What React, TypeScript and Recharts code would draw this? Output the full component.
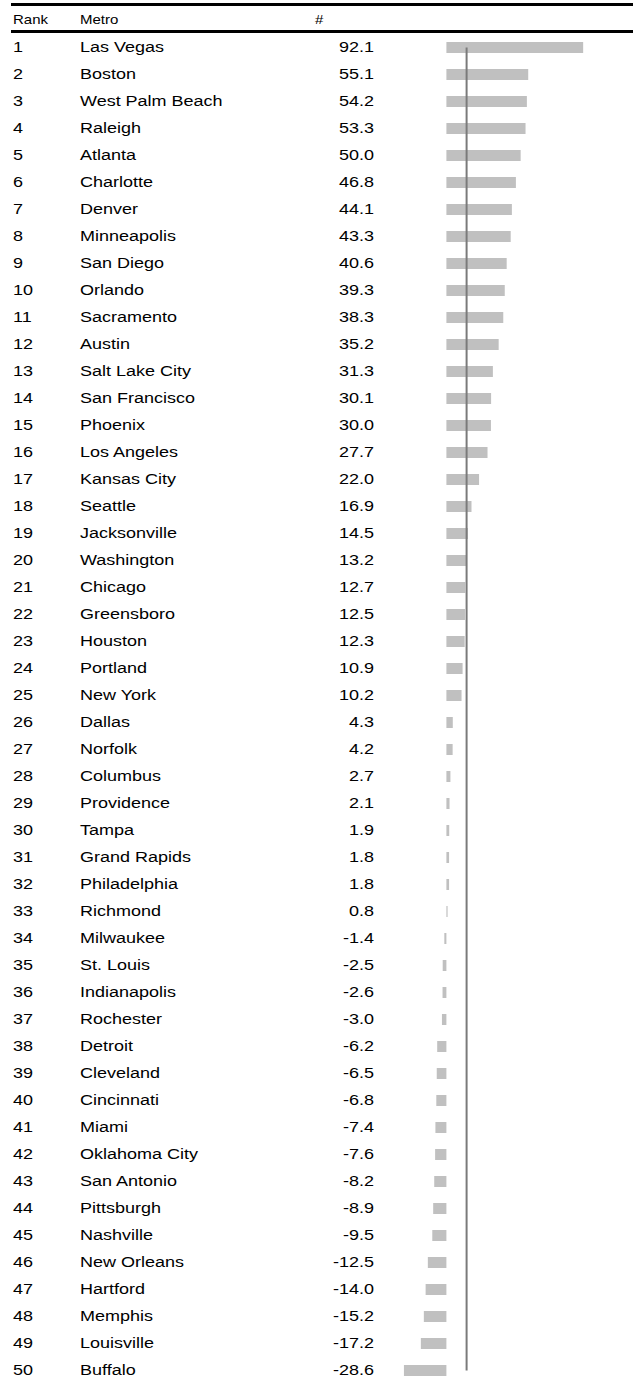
import { BarChart, Bar, XAxis, YAxis, ReferenceLine, LabelList } from 'recharts';

const metros = [
  'Las Vegas', 'Boston', 'West Palm Beach', 'Raleigh', 'Atlanta',
  'Charlotte', 'Denver', 'Minneapolis', 'San Diego', 'Orlando',
  'Sacramento', 'Austin', 'Salt Lake City', 'San Francisco', 'Phoenix',
  'Los Angeles', 'Kansas City', 'Seattle', 'Jacksonville', 'Washington',
  'Chicago', 'Greensboro', 'Houston', 'Portland', 'New York',
  'Dallas', 'Norfolk', 'Columbus', 'Providence', 'Tampa',
  'Grand Rapids', 'Philadelphia', 'Richmond', 'Milwaukee', 'St. Louis',
  'Indianapolis', 'Rochester', 'Detroit', 'Cleveland', 'Cincinnati',
  'Miami', 'Oklahoma City', 'San Antonio', 'Pittsburgh', 'Nashville',
  'New Orleans', 'Hartford', 'Memphis', 'Louisville', 'Buffalo',
];

const values = [
  92.1, 55.1, 54.2, 53.3, 50.0,
  46.8, 44.1, 43.3, 40.6, 39.3,
  38.3, 35.2, 31.3, 30.1, 30.0,
  27.7, 22.0, 16.9, 14.5, 13.2,
  12.7, 12.5, 12.3, 10.9, 10.2,
  4.3, 4.2, 2.7, 2.1, 1.9,
  1.8, 1.8, 0.8, -1.4, -2.5,
  -2.6, -3.0, -6.2, -6.5, -6.8,
  -7.4, -7.6, -8.2, -8.9, -9.5,
  -12.5, -14.0, -15.2, -17.2, -28.6,
];

const headers = ['Rank', 'Metro', '#'];

// vertical marker line drawn across the bars
const markerValue = 13.6;

const FONT = '"Liberation Sans", Arial, Helvetica, sans-serif';

const data = metros.map((m, i) => ({ rank: i + 1, metro: m, value: values[i] }));

function RowLabel(props: any) {
  const { y, height, index } = props;
  const row = data[index];
  if (!row) return null;
  const by = Number(y) + Number(height) / 2 + 4.5;
  const common = { fontSize: 15, fontFamily: FONT, fill: '#000' };
  return (
    <g>
      <text transform={`translate(13, ${by}) scale(1.2, 1)`} {...common}>
        {row.rank}
      </text>
      <text transform={`translate(80, ${by}) scale(1.2, 1)`} {...common}>
        {row.metro}
      </text>
      <text transform={`translate(374, ${by}) scale(1.2, 1)`} textAnchor="end" {...common}>
        {row.value.toFixed(1)}
      </text>
    </g>
  );
}

export default function App() {
  return (
    <div
      style={{
        position: 'absolute',
        left: 0,
        top: 0,
        width: 639,
        height: 1382,
        overflow: 'hidden',
        background: '#fff',
      }}
    >
      <svg
        width={639}
        height={40}
        style={{ position: 'absolute', left: 0, top: 0, zIndex: 1 }}
      >
        <rect x={11} y={3} width={622} height={3} fill="#000" />
        <rect x={11} y={30} width={622} height={3} fill="#000" />
        <text transform="translate(13, 24) scale(1.2, 1)" fontSize={12.5} fontFamily={FONT} fill="#000">
          {headers[0]}
        </text>
        <text transform="translate(80, 24) scale(1.2, 1)" fontSize={12.5} fontFamily={FONT} fill="#000">
          {headers[1]}
        </text>
        <text transform="translate(315, 24) scale(1.2, 1)" fontSize={12.5} fontFamily={FONT} fill="#000">
          {headers[2]}
        </text>
      </svg>
      <BarChart
        width={639}
        height={1384}
        data={data}
        layout="vertical"
        margin={{ top: 34, right: 14.4, bottom: 0, left: 387 }}
      >
        <XAxis type="number" domain={[-40, 120]} allowDataOverflow hide />
        <YAxis type="category" dataKey="metro" hide />
        <Bar dataKey="value" fill="#c0c0c0" barSize={11} isAnimationActive={false}>
          <LabelList dataKey="metro" content={<RowLabel />} />
        </Bar>
        <ReferenceLine
          segment={[
            { x: markerValue, y: metros[0] },
            { x: markerValue, y: metros[metros.length - 1] },
          ]}
          stroke="#7a7a7a"
          strokeWidth={2}
        />
      </BarChart>
    </div>
  );
}
